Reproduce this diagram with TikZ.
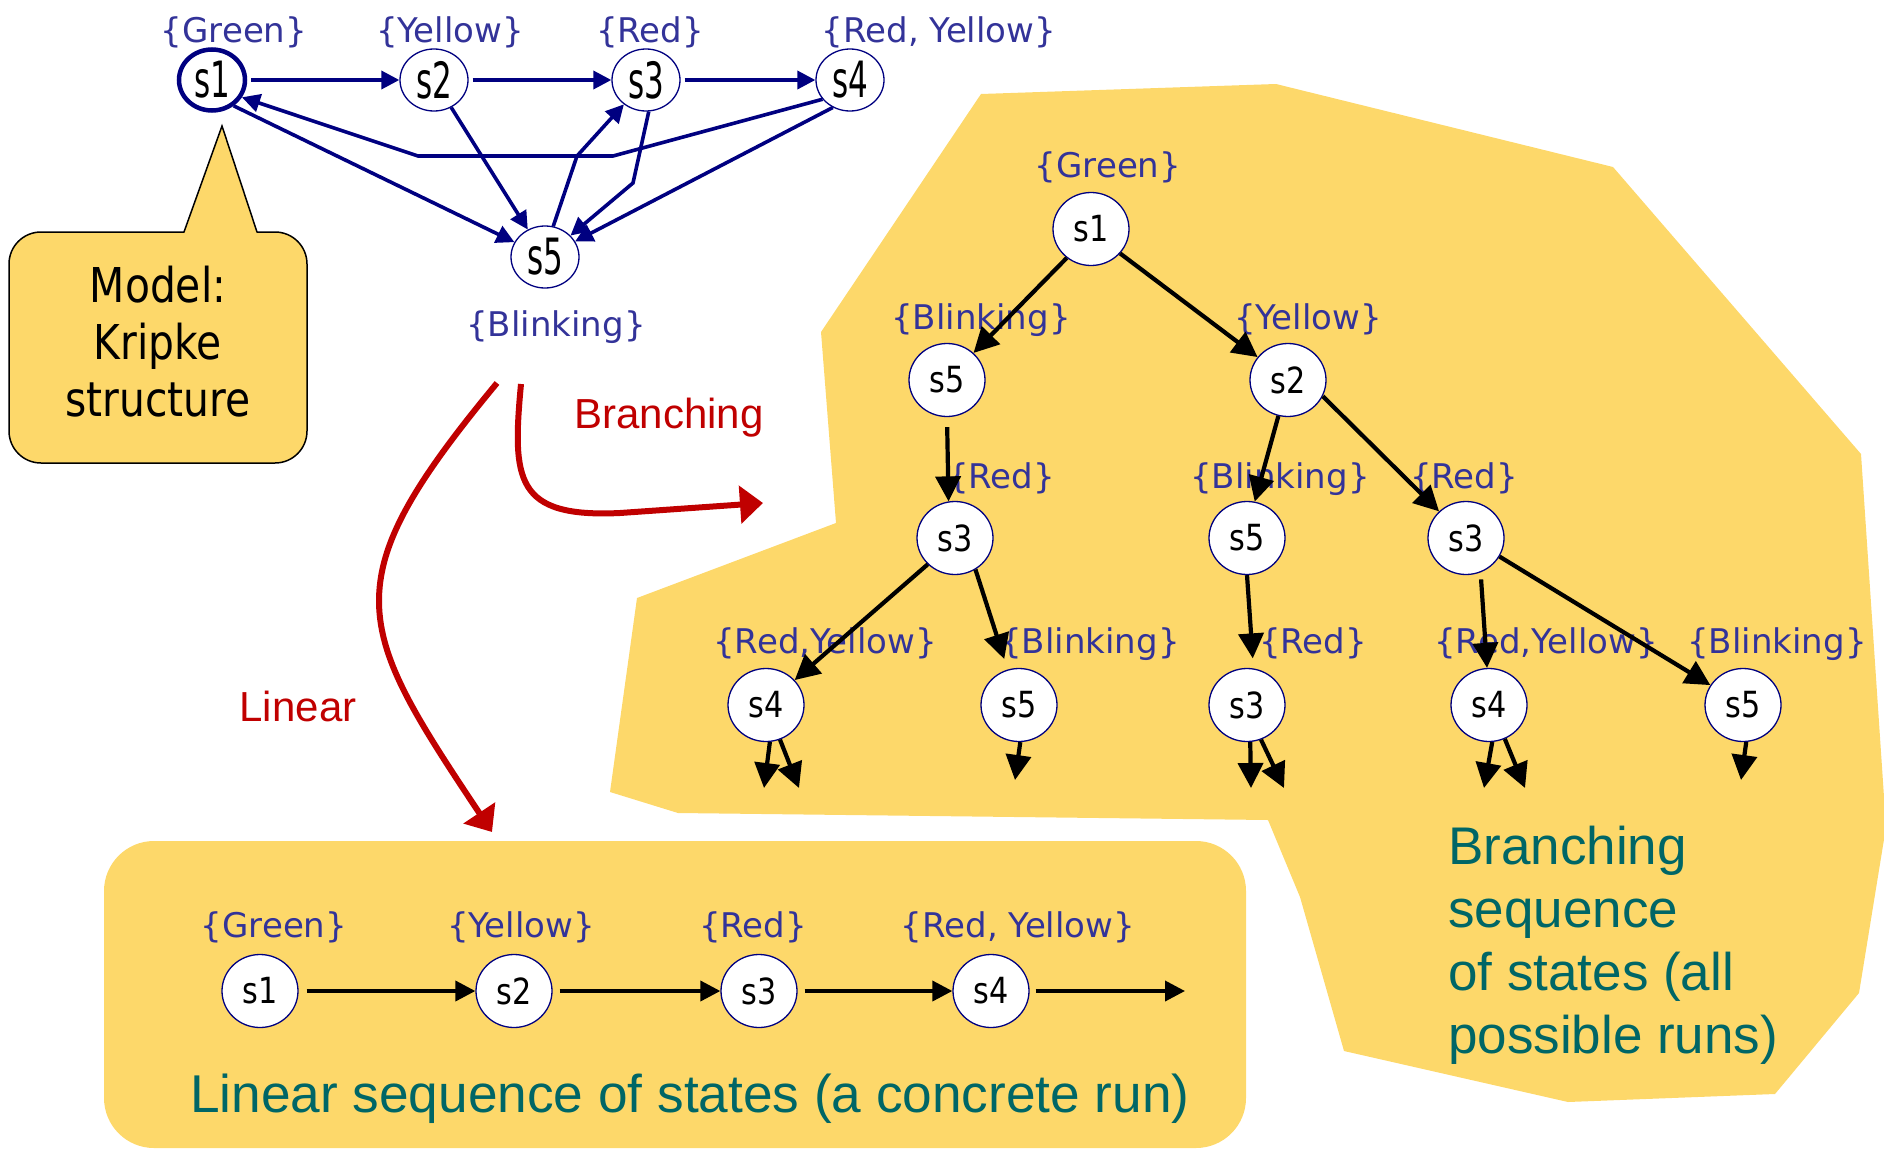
\documentclass[tikz,border=0pt]{standalone}
\usepackage{fontspec}
\usetikzlibrary{arrows.meta,shapes.geometric}

\newfontfamily\lblfont{DejaVu Sans}
\newfontfamily\kripkefont[FakeStretch=0.62]{DejaVu Sans}
\newfontfamily\treefont[FakeStretch=0.84]{DejaVu Sans}
\newfontfamily\modelfont[FakeStretch=0.85]{DejaVu Sans}
\newfontfamily\arialfont{Liberation Sans}

\definecolor{padyellow}{RGB}{253,216,106}
\definecolor{propblue}{RGB}{51,51,153}
\definecolor{kripkenavy}{RGB}{0,0,128}
\definecolor{flowred}{RGB}{192,0,0}
\definecolor{noteteal}{RGB}{0,102,102}

\tikzset{
  kstate/.style={ellipse, draw=kripkenavy, line width=1.3pt, fill=white,
    minimum width=68pt, minimum height=62pt, inner sep=0pt,
    font=\kripkefont\fontsize{50pt}{56pt}\selectfont},
  tstate/.style={ellipse, draw=kripkenavy, line width=1.3pt, fill=white,
    minimum width=76pt, minimum height=73pt, inner sep=0pt,
    font=\treefont\fontsize{36pt}{40pt}\selectfont},
  prop/.style={anchor=base, inner sep=0pt, text=propblue,
    font=\lblfont\fontsize{34pt}{40pt}\selectfont},
  karrow/.style={draw=kripkenavy, line width=3.6pt,
    -{Triangle[length=18pt,width=18pt]}},
  tarrow/.style={draw=black, line width=4.2pt,
    -{Triangle[length=25pt,width=25pt]}},
  larrow/.style={draw=black, line width=3.8pt,
    -{Triangle[length=20pt,width=20pt]}},
  flow/.style={draw=flowred, line width=6pt,
    -{Triangle[length=23pt,width=37pt]}},
  flowlabel/.style={anchor=base, inner sep=0pt, text=flowred,
    font=\arialfont\fontsize{42pt}{48pt}\selectfont},
  note/.style={inner sep=0pt, text=noteteal},
}

\begin{document}
\begin{tikzpicture}[x=1pt,y=-1pt]
\useasboundingbox (0,0) rectangle (1884,1151);

% ---------- backgrounds ----------
\fill[padyellow] (981,94) -- (1276,84) -- (1613,167) -- (1861,454)
  -- (1886,827) -- (1859,993) -- (1775,1094) -- (1568,1102) -- (1344,1051)
  -- (1300,897) -- (1268,820) -- (678,813) -- (610,792) -- (637,598)
  -- (836,523) -- (821,332) -- cycle;
\fill[padyellow, rounded corners=50pt] (104,841) rectangle (1246,1148);

% ---------- callout ----------
\node[draw=black, line width=1.5pt, fill=padyellow, rounded corners=32pt,
  minimum width=298pt, minimum height=231pt, inner sep=0pt]
  (modelbox) at (158,347.5) {};
\fill[padyellow] (184,234) -- (222,126) -- (257,234) -- cycle;
\draw[line width=1.5pt, line join=miter] (184,232) -- (222,126) -- (257,232);
\node[anchor=north, align=center, inner sep=0pt,
  font=\modelfont\fontsize{48pt}{57pt}\selectfont]
  (modeltext) at (158,265.5) {Model:\\Kripke\\structure};

% ---------- Kripke structure ----------
\node[kstate, line width=4.5pt, minimum width=66pt, minimum height=61pt] (k1) at (212,80) {s1};
\node[kstate] (k2) at (434,80) {s2};
\node[kstate] (k3) at (646,80) {s3};
\node[kstate] (k4) at (850,80) {s4};
\node[kstate] (k5) at (545,257) {s5};

\node[prop] (kl1) at (234,42) {\{Green\}};
\node[prop] (kl2) at (450,42) {\{Yellow\}};
\node[prop] (kl3) at (650,42) {\{Red\}};
\node[prop] (kl4) at (939,42) {\{Red, Yellow\}};
\node[prop] (kl5) at (556,336) {\{Blinking\}};

\coordinate (kb1) at (613,156);
\coordinate (kb2) at (418,156);
\coordinate (kc1) at (577,156);
\coordinate (kc2) at (633,183);

\draw[karrow, shorten <=4pt] (k1) -- (k2);
\draw[karrow, shorten <=4pt] (k2) -- (k3);
\draw[karrow, shorten <=4pt] (k3) -- (k4);
\draw[karrow] (k4.215) -- (kb1) -- (kb2) -- (k1.-30);
\draw[karrow] (k1.-50) -- (k5);
\draw[karrow] (k2) -- (k5);
\draw[karrow] (k5.75) -- (kc1) -- (k3);
\draw[karrow] (k3.-85) -- (kc2) -- (k5);
\draw[karrow] (k4.238) -- (k5);

% ---------- red flow arrows ----------
\coordinate (bstart) at (521,384);
\coordinate (bstop) at (763,503);
\coordinate (lstart) at (497,383);
\coordinate (lstop) at (492,832);
\draw[flow] (bstart) .. controls (512,480) and (515,518) .. (620,513) -- (bstop);
\draw[flow] (lstart) .. controls (331,583) and (354,625) .. (lstop);
\node[flowlabel] (branchlabel) at (669,428) {Branching};
\node[flowlabel] (linearlabel) at (298,721) {Linear};

% ---------- computation tree ----------
\node[tstate] (t1) at (1091,229) {s1};
\node[tstate] (t5a) at (947,380) {s5};
\node[tstate] (t2) at (1288,380) {s2};
\node[tstate] (t3a) at (955,538) {s3};
\node[tstate] (t5b) at (1247,538) {s5};
\node[tstate] (t3b) at (1466,538) {s3};
\node[tstate] (t4a) at (766,705) {s4};
\node[tstate] (t5c) at (1019,705) {s5};
\node[tstate] (t3c) at (1247,705) {s3};
\node[tstate] (t4b) at (1489,705) {s4};
\node[tstate] (t5d) at (1743,705) {s5};

\node[prop] (tl1) at (1108,177) {\{Green\}};
\node[prop] (tl5a) at (981,329) {\{Blinking\}};
\node[prop] (tl2) at (1308,329) {\{Yellow\}};
\node[prop] (tl3a) at (1001,488) {\{Red\}};
\node[prop] (tl5b) at (1280,488) {\{Blinking\}};
\node[prop] (tl3b) at (1464,488) {\{Red\}};
\node[prop] (tl4a) at (825,653) {\{Red,Yellow\}};
\node[prop] (tl5c) at (1090,653) {\{Blinking\}};
\node[prop] (tl3c) at (1313,653) {\{Red\}};
\node[prop] (tl4b) at (1546,653) {\{Red,Yellow\}};
\node[prop] (tl5d) at (1777,653) {\{Blinking\}};

\draw[tarrow] (t1.230) -- (t5a);
\draw[tarrow] (t1.-40) -- (t2);
\draw[tarrow, shorten <=10pt] (t5a.-90) -- (t3a.100);
\draw[tarrow] (t2.-105) -- (t5b.78);
\draw[tarrow] (t2.-25) -- (t3b);
\draw[tarrow] (t3a.224) -- (t4a);
\draw[tarrow, shorten >=11pt] (t3a.-57) -- (t5c);
\draw[tarrow, shorten >=10pt] (t5b.-90) -- (t3c.80);
\draw[tarrow, shorten <=7pt] (t3b.-67) -- (t4b.93);
\draw[tarrow] (t3b.-29) -- (t5d);

% open continuations below the deepest level
\coordinate (e4a1) at (764,788);
\coordinate (e4a2) at (799,788);
\coordinate (e5c1) at (1015,780);
\coordinate (e3c1) at (1251,788);
\coordinate (e3c2) at (1284,788);
\coordinate (e4b1) at (1484,788);
\coordinate (e4b2) at (1525,788);
\coordinate (e5d1) at (1741,780);
\draw[tarrow] (t4a.-84) -- (e4a1);
\draw[tarrow] (t4a.-68) -- (e4a2);
\draw[tarrow] (t5c.-88) -- (e5c1);
\draw[tarrow] (t3c.-85) -- (e3c1);
\draw[tarrow] (t3c.-68) -- (e3c2);
\draw[tarrow] (t4b.-85) -- (e4b1);
\draw[tarrow] (t4b.-65) -- (e4b2);
\draw[tarrow] (t5d.-85) -- (e5d1);

\node[note, anchor=north west, align=left,
  font=\arialfont\fontsize{53pt}{63pt}\selectfont]
  (branchtext) at (1448,826) {Branching\\sequence\\of states (all\\possible runs)};

% ---------- linear run ----------
\node[tstate] (l1) at (260,991) {s1};
\node[tstate] (l2) at (514,991) {s2};
\node[tstate] (l3) at (759,991) {s3};
\node[tstate] (l4) at (991,991) {s4};
\node[prop] (ll1) at (274,937) {\{Green\}};
\node[prop] (ll2) at (521,937) {\{Yellow\}};
\node[prop] (ll3) at (753,937) {\{Red\}};
\node[prop] (ll4) at (1018,937) {\{Red, Yellow\}};
\coordinate (lrun) at (1185,991);
\draw[larrow, shorten <=8pt] (l1) -- (l2);
\draw[larrow, shorten <=7pt] (l2) -- (l3);
\draw[larrow, shorten <=7pt] (l3) -- (l4);
\draw[larrow, shorten <=6pt] (l4) -- (lrun);

\node[note, anchor=base, font=\arialfont\fontsize{53.2pt}{60pt}\selectfont]
  (lineartext) at (690,1112) {Linear sequence of states (a concrete run)};
\end{tikzpicture}
\end{document}
